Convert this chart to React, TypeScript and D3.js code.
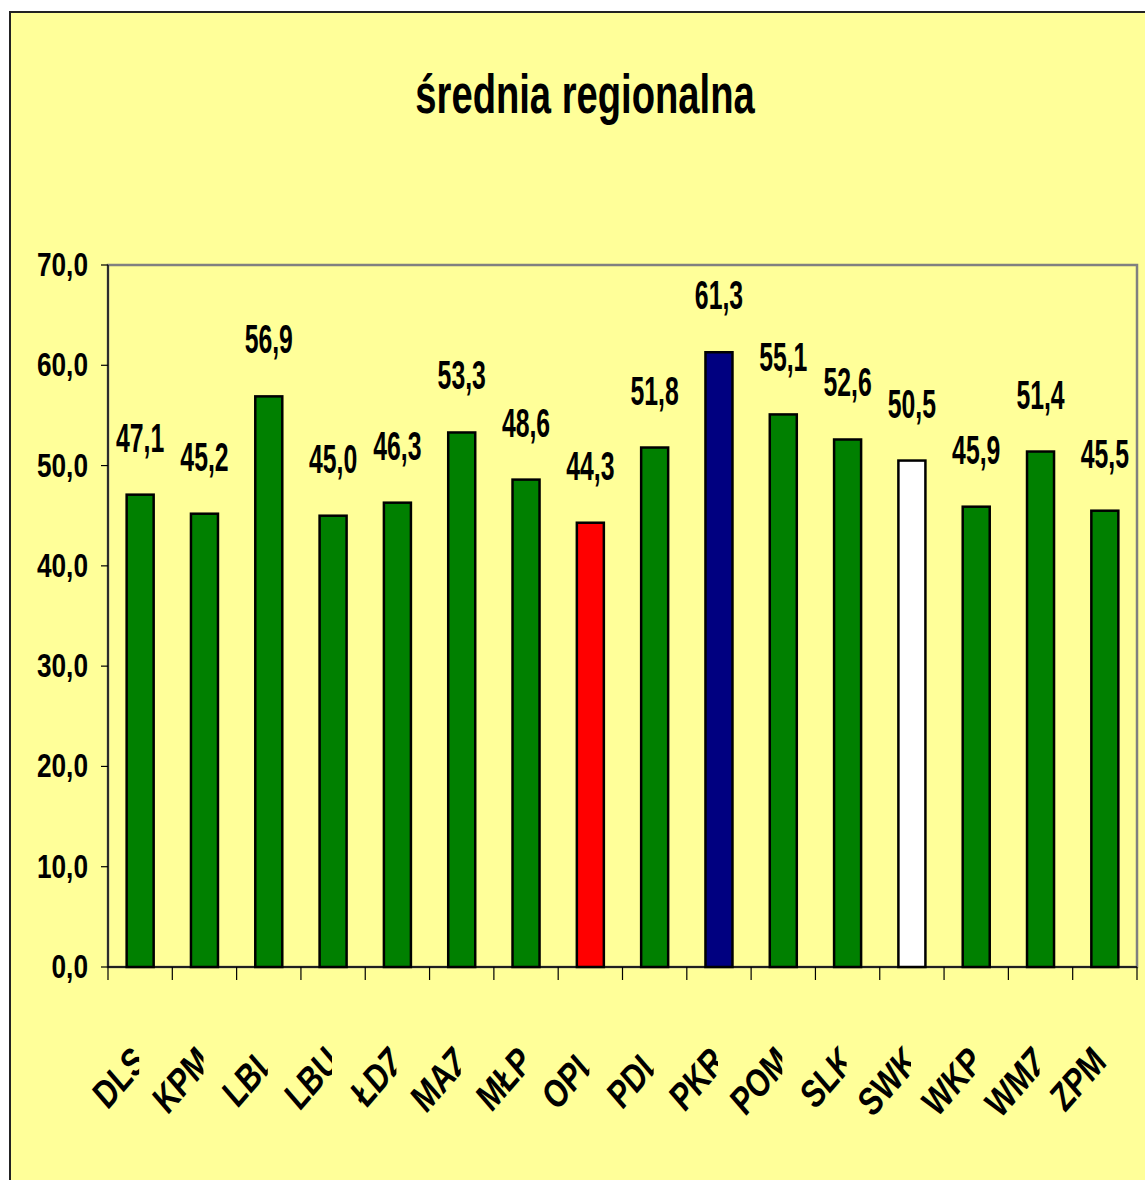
import React from 'react'
import * as d3 from 'd3'

const categories = ['DLS', 'KPM', 'LBL', 'LBU', 'ŁDZ', 'MAZ', 'MŁP', 'OPL', 'PDL', 'PKR', 'POM', 'SLK', 'SWK', 'WKP', 'WMZ', 'ZPM']
const values = [47.1, 45.2, 56.9, 45.0, 46.3, 53.3, 48.6, 44.3, 51.8, 61.3, 55.1, 52.6, 50.5, 45.9, 51.4, 45.5]
const barFills = ['#008000', '#008000', '#008000', '#008000', '#008000', '#008000', '#008000', '#FF0000', '#008000', '#000080', '#008000', '#008000', '#FFFFFF', '#008000', '#008000', '#008000']
const yTicks = [0, 10, 20, 30, 40, 50, 60, 70]
const title = 'średnia regionalna'

const W = 1145
const H = 1180
// no narrow font installed, so the bold sans is squeezed with scale()
const FONT = "'Liberation Sans', Arial, sans-serif"

export default function App() {
  const left = 108, right = 1137, top = 265, bottom = 967

  const x = d3.scaleBand<string>().domain(categories).range([left, right]).paddingInner(0.58).paddingOuter(0.29)
  const y = d3.scaleLinear().domain([0, 70]).range([bottom, top])
  const fmt = (v: number) => d3.format('.1f')(v).replace('.', ',')
  const step = x.step()
  const bounds = d3.range(categories.length + 1).map(i => left + i * step)
  const mid = (c: string) => x(c)! + x.bandwidth() / 2
  const last = categories.length - 1

  return (
    <svg width={W} height={H} style={{ position: 'absolute', left: 0, top: 0, display: 'block' }}
      fontFamily={FONT} fontWeight="bold">
      <rect x={0} y={0} width={W} height={H} fill="#fff" />
      {/* outer chart border, runs off the right/bottom edge */}
      <rect x={10} y={12} width={W + 20} height={H + 20} fill="#FFFF99" stroke="#222" strokeWidth={2} />

      <g transform={`translate(585, 113) scale(0.83, 1.2)`}>
        <text textAnchor="middle" fontSize={46}>{title}</text>
      </g>

      {/* plot frame */}
      <rect x={left} y={top} width={right - left} height={bottom - top} fill="none" stroke="#808080" strokeWidth={2.5} />

      {/* y axis */}
      <line x1={left} x2={left} y1={top} y2={bottom} stroke="#000" strokeWidth={1.3} />
      {yTicks.map(t => (
        <g key={t}>
          <line x1={left - 7} x2={left} y1={y(t)} y2={y(t)} stroke="#000" strokeWidth={1.2} />
          <g transform={`translate(88, ${y(t) + 11}) scale(0.82, 1.02)`}>
            <text textAnchor="end" fontSize={32}>{fmt(t)}</text>
          </g>
        </g>
      ))}

      {/* bars */}
      {categories.map((c, i) => (
        <rect key={c} x={x(c)} y={y(values[i])} width={x.bandwidth()} height={bottom - y(values[i])}
          fill={barFills[i]} stroke="#000" strokeWidth={2.5} />
      ))}

      {/* x axis */}
      <line x1={left} x2={right} y1={bottom} y2={bottom} stroke="#000" strokeWidth={1.3} />
      {bounds.map((b, i) => (
        <line key={i} x1={b} x2={b} y1={bottom} y2={bottom + 13} stroke="#000" strokeWidth={1.2} />
      ))}

      {/* value labels */}
      {categories.map((c, i) => (
        <g key={c} transform={`translate(${mid(c)}, ${y(values[i]) - 43}) scale(0.8, 1.3)`}>
          <text textAnchor="middle" fontSize={31}>{fmt(values[i])}</text>
        </g>
      ))}

      {/* category labels, rotated; each one is cut where the next one starts */}
      <defs>
        {categories.map((c, i) => (
          <clipPath key={c} id={`clip-${i}`}>
            <rect x={mid(c) - 300} y={bottom + 20} width={i === last ? 600 : 299} height={200} />
          </clipPath>
        ))}
      </defs>
      {categories.map((c, i) => (
        <g key={c} clipPath={`url(#clip-${i})`}>
          <text transform={`translate(${mid(c) + (i === last ? 3 : 8)}, 1064) scale(1, 1.15) rotate(-45) scale(0.82, 1)`}
            textAnchor="end" fontSize={35}>{c}</text>
        </g>
      ))}
    </svg>
  )
}
